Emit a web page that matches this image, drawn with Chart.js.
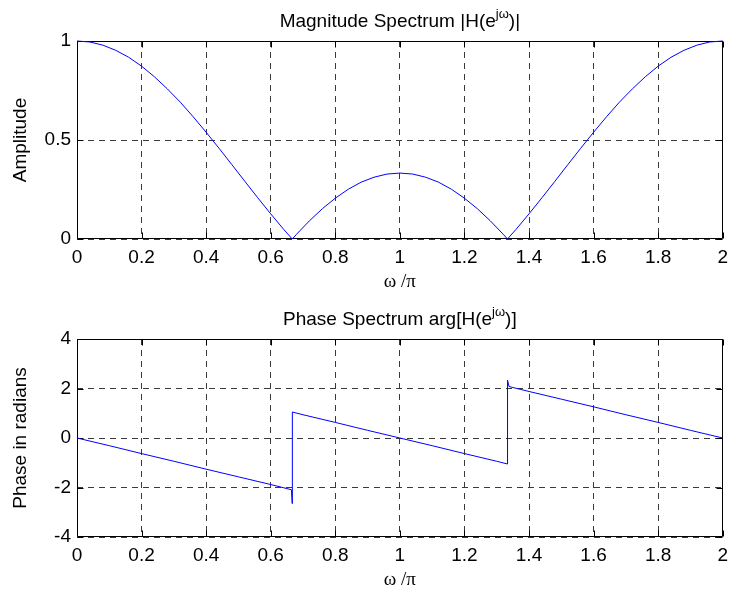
<!DOCTYPE html>
<html>
<head>
<meta charset="utf-8">
<script src="https://cdn.jsdelivr.net/npm/chart.js@4.4.0/dist/chart.umd.min.js"></script>
<style>
  html, body { margin: 0; padding: 0; background: #fff; }
  #wrap { position: relative; width: 735px; height: 599px; overflow: hidden; }
  canvas { position: absolute; left: 0; }
</style>
</head>
<body>
<div id="wrap">
  <canvas id="magChart" width="735" height="300" style="top:0"></canvas>
  <canvas id="phaseChart" width="735" height="299" style="top:300px"></canvas>
</div>
<script>
// tick labels
const xTicks = [0, 0.2, 0.4, 0.6, 0.8, 1, 1.2, 1.4, 1.6, 1.8, 2];
const magTicks = [0, 0.5, 1];
const phaseTicks = [-4, -2, 0, 2, 4];

// magnitude (x in units of pi)
const magX = [0, 0.04, 0.08, 0.12, 0.16, 0.20, 0.24, 0.28, 0.32, 0.36, 0.40, 0.44, 0.48, 0.52, 0.56, 0.60, 0.64,
  0.6667,
  0.68, 0.72, 0.76, 0.80, 0.84, 0.88, 0.92, 0.96, 1.00, 1.04, 1.08, 1.12, 1.16, 1.20, 1.24, 1.28, 1.32,
  1.3333,
  1.36, 1.40, 1.44, 1.48, 1.52, 1.56, 1.60, 1.64, 1.68, 1.72, 1.76, 1.80, 1.84, 1.88, 1.92, 1.96, 2.00];
const magY = [1.000, 0.995, 0.979, 0.953, 0.918, 0.873, 0.819, 0.758, 0.691, 0.617, 0.539, 0.458, 0.375, 0.291, 0.208, 0.127, 0.049,
  0.000,
  0.024, 0.092, 0.153, 0.206, 0.251, 0.287, 0.312, 0.328, 0.333, 0.328, 0.312, 0.287, 0.251, 0.206, 0.153, 0.092, 0.024,
  0.000,
  0.049, 0.127, 0.208, 0.291, 0.375, 0.458, 0.539, 0.617, 0.691, 0.758, 0.819, 0.873, 0.918, 0.953, 0.979, 0.995, 1.000];

// phase
const phaseX = [0, 0.1, 0.2, 0.3, 0.4, 0.5, 0.6, 0.664, 0.6665,
  0.667, 0.7, 0.8, 0.9, 1.0, 1.1, 1.2, 1.3, 1.333,
  1.3335, 1.338, 1.4, 1.5, 1.6, 1.7, 1.8, 1.9, 2.0];
const phaseY = [0, -0.31, -0.63, -0.94, -1.26, -1.57, -1.88, -2.09, -2.65,
  1.05, 0.94, 0.63, 0.31, 0, -0.31, -0.63, -0.94, -1.05,
  2.34, 2.08, 1.88, 1.57, 1.26, 0.94, 0.63, 0.31, 0];

const sansFont = { family: '"Liberation Sans", Arial, sans-serif', size: 19 };
const serifFont = { family: '"Liberation Serif", "Times New Roman", serif', size: 19 };

// title with a superscript, Chart.js title can't do that
const supTitle = {
  id: 'supTitle',
  afterDraw(chart, args, opts) {
    const { ctx, chartArea } = chart;
    const big = '19px "Liberation Sans", Arial, sans-serif';
    const small = '13px "Liberation Sans", Arial, sans-serif';
    ctx.save();
    ctx.fillStyle = '#000';
    ctx.textBaseline = 'alphabetic';
    ctx.font = big;
    const w1 = ctx.measureText(opts.head).width;
    const w3 = ctx.measureText(opts.tail).width;
    ctx.font = small;
    const w2 = ctx.measureText(opts.sup).width;
    let x = (chartArea.left + chartArea.right) / 2 - (w1 + w2 + w3) / 2;
    const y = chartArea.top - opts.gap;
    ctx.font = big;
    ctx.fillText(opts.head, x, y);
    x += w1;
    ctx.font = small;
    ctx.fillText(opts.sup, x, y - 9);
    x += w2;
    ctx.font = big;
    ctx.fillText(opts.tail, x, y);
    ctx.restore();
  }
};

// matlab style box with inward ticks on all four sides
const matlabBox = {
  id: 'matlabBox',
  beforeDatasetsDraw(chart) {
    const { ctx, chartArea: a, scales } = chart;
    const tl = 6;
    const L = Math.round(a.left) + 0.5, R = Math.round(a.right) - 0.5;
    const T = Math.round(a.top) + 0.5, B = Math.round(a.bottom) - 0.5;
    ctx.save();
    ctx.strokeStyle = '#000';
    ctx.lineWidth = 1;
    ctx.beginPath();
    ctx.rect(L, T, R - L, B - T);
    scales.x.ticks.forEach(t => {
      const px = Math.round(scales.x.getPixelForValue(t.value)) + 0.5;
      ctx.moveTo(px, B); ctx.lineTo(px, B - tl);
      ctx.moveTo(px, T); ctx.lineTo(px, T + tl);
    });
    scales.y.ticks.forEach(t => {
      const py = Math.round(scales.y.getPixelForValue(t.value)) + 0.5;
      ctx.moveTo(L, py); ctx.lineTo(L + tl, py);
      ctx.moveTo(R, py); ctx.lineTo(R - tl, py);
    });
    ctx.stroke();
    ctx.restore();
  }
};

const gridOpts = { color: '#3a3a3a', lineWidth: 1, drawTicks: false };
const borderOpts = { display: false, dash: [6, 5] };

function xAxis(height, titleBottom) {
  return {
    type: 'linear', min: 0, max: 2,
    afterBuildTicks: s => { s.ticks = xTicks.map(v => ({ value: v })); },
    afterFit: s => { s.height = height; },
    grid: gridOpts, border: borderOpts,
    ticks: { color: '#000', font: sansFont, padding: 7, maxRotation: 0, autoSkip: false, callback: v => String(v) },
    title: { display: true, text: 'ω /π', color: '#000', font: serifFont, padding: { top: 0, bottom: titleBottom } }
  };
}

function yAxis(min, max, tickList, label) {
  return {
    type: 'linear', min: min, max: max,
    afterBuildTicks: s => { s.ticks = tickList.map(v => ({ value: v })); },
    afterFit: s => { s.width = 77; },
    grid: gridOpts, border: borderOpts,
    ticks: { color: '#000', font: sansFont, padding: 6, autoSkip: false, callback: v => String(v) },
    title: { display: true, text: label, color: '#000', font: sansFont, padding: { top: 9, bottom: 0 } }
  };
}

function lineSet(xs, ys) {
  return {
    data: xs.map((x, i) => ({ x: x, y: ys[i] })),
    borderColor: '#0000ff',
    borderWidth: 1,
    pointRadius: 0,
    tension: 0,
    fill: false,
    clip: false
  };
}

new Chart(document.getElementById('magChart'), {
  type: 'line',
  data: { datasets: [lineSet(magX, magY)] },
  options: {
    responsive: false,
    animation: false,
    layout: { padding: { top: 41, right: 8, left: 0, bottom: 0 } },
    plugins: {
      legend: { display: false },
      tooltip: { enabled: false },
      supTitle: { head: 'Magnitude Spectrum |H(e', sup: 'jω', tail: ')|', gap: 14 }
    },
    scales: {
      x: xAxis(61, 7),
      y: yAxis(0, 1, magTicks, 'Amplitude')
    }
  },
  plugins: [supTitle, matlabBox]
});

new Chart(document.getElementById('phaseChart'), {
  type: 'line',
  data: { datasets: [lineSet(phaseX, phaseY)] },
  options: {
    responsive: false,
    animation: false,
    layout: { padding: { top: 39, right: 8, left: 0, bottom: 0 } },
    plugins: {
      legend: { display: false },
      tooltip: { enabled: false },
      supTitle: { head: 'Phase Spectrum arg[H(e', sup: 'jω', tail: ')]', gap: 14 }
    },
    scales: {
      x: xAxis(62, 8),
      y: yAxis(-4, 4, phaseTicks, 'Phase in radians')
    }
  },
  plugins: [supTitle, matlabBox]
});
</script>
</body>
</html>
